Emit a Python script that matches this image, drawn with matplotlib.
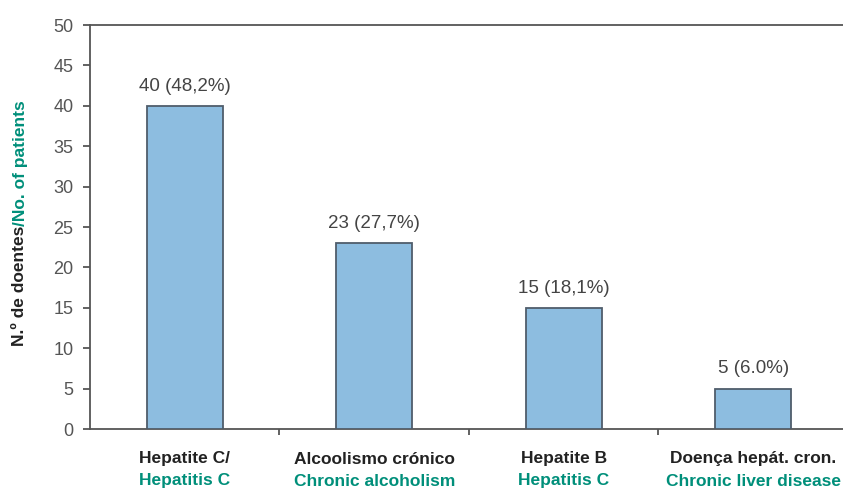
import matplotlib
matplotlib.use("Agg")
from matplotlib import pyplot as plt
from matplotlib import transforms

categories_pt = ["Hepatite C/", "Alcoolismo crónico", "Hepatite B", "Doença hepát. cron."]
categories_en = ["Hepatitis C", "Chronic alcoholism", "Hepatitis C", "Chronic liver disease"]
counts = [40, 23, 15, 5]
percents = ["48,2%", "27,7%", "18,1%", "6.0%"]
y_ticks = [0, 5, 10, 15, 20, 25, 30, 35, 40, 45, 50]

TEAL = "#008f7a"
AXIS_GREY = "#555555"
NARROW = ["Liberation Sans Narrow", "Liberation Sans", "DejaVu Sans"]

plt.rcParams["font.family"] = ["Liberation Sans", "DejaVu Sans"]

fig = plt.figure(figsize=(8.43, 4.92), dpi=100)
ax = fig.add_axes([90 / 843, 1 - 429 / 492, 1 - 90 / 843, (429 - 25) / 492])

x = list(range(len(counts)))
bars = ax.bar(x, counts, width=0.4, color="#8dbde0", edgecolor="#4f5d6b", linewidth=1.3, zorder=3)

for xi, n, pct in zip(x, counts, percents):
    ax.annotate(f"{n} ({pct})", (xi, n), xytext=(0, 8), textcoords="offset points",
                ha="center", va="bottom", fontsize=13.5, color="#444444")

ax.set_xlim(-0.5, 3.474)
ax.set_ylim(0, 50)
ax.set_yticks(y_ticks)
ax.tick_params(axis="y", direction="out", length=5, width=1.3, color=AXIS_GREY,
               labelsize=13, labelcolor="#555555", pad=7)
ax.set_xticks([0.5, 1.5, 2.5])
ax.set_xticklabels([])
ax.tick_params(axis="x", direction="out", length=4, width=1.3, color=AXIS_GREY)

for side in ("left", "bottom", "top"):
    ax.spines[side].set_color(AXIS_GREY)
    ax.spines[side].set_linewidth(1.3)
ax.spines["right"].set_visible(False)

# two-line category labels: Portuguese in black, English in teal
trans = transforms.blended_transform_factory(ax.transData, fig.transFigure)
for xi, pt, en in zip(x, categories_pt, categories_en):
    ax.text(xi, 1 - 459 / 492, pt, transform=trans, ha="center", va="center",
            fontsize=12.5, fontweight="bold", color="#222222", family=NARROW)
    ax.text(xi, 1 - 481 / 492, en, transform=trans, ha="center", va="center",
            fontsize=12.5, fontweight="bold", color=TEAL, family=NARROW)

# y-axis title in two colours, joined at the slash
yx, yy = 20 / 843, 1 - 226 / 492
fig.text(yx, yy, "N.º de doentes", rotation=90, rotation_mode="anchor", ha="right", va="center",
         fontsize=12.5, fontweight="bold", color="#222222", family=NARROW)
fig.text(yx, yy, "/No. of patients", rotation=90, rotation_mode="anchor", ha="left", va="center",
         fontsize=12.5, fontweight="bold", color=TEAL, family=NARROW)

fig.savefig("out.png", dpi=100)
